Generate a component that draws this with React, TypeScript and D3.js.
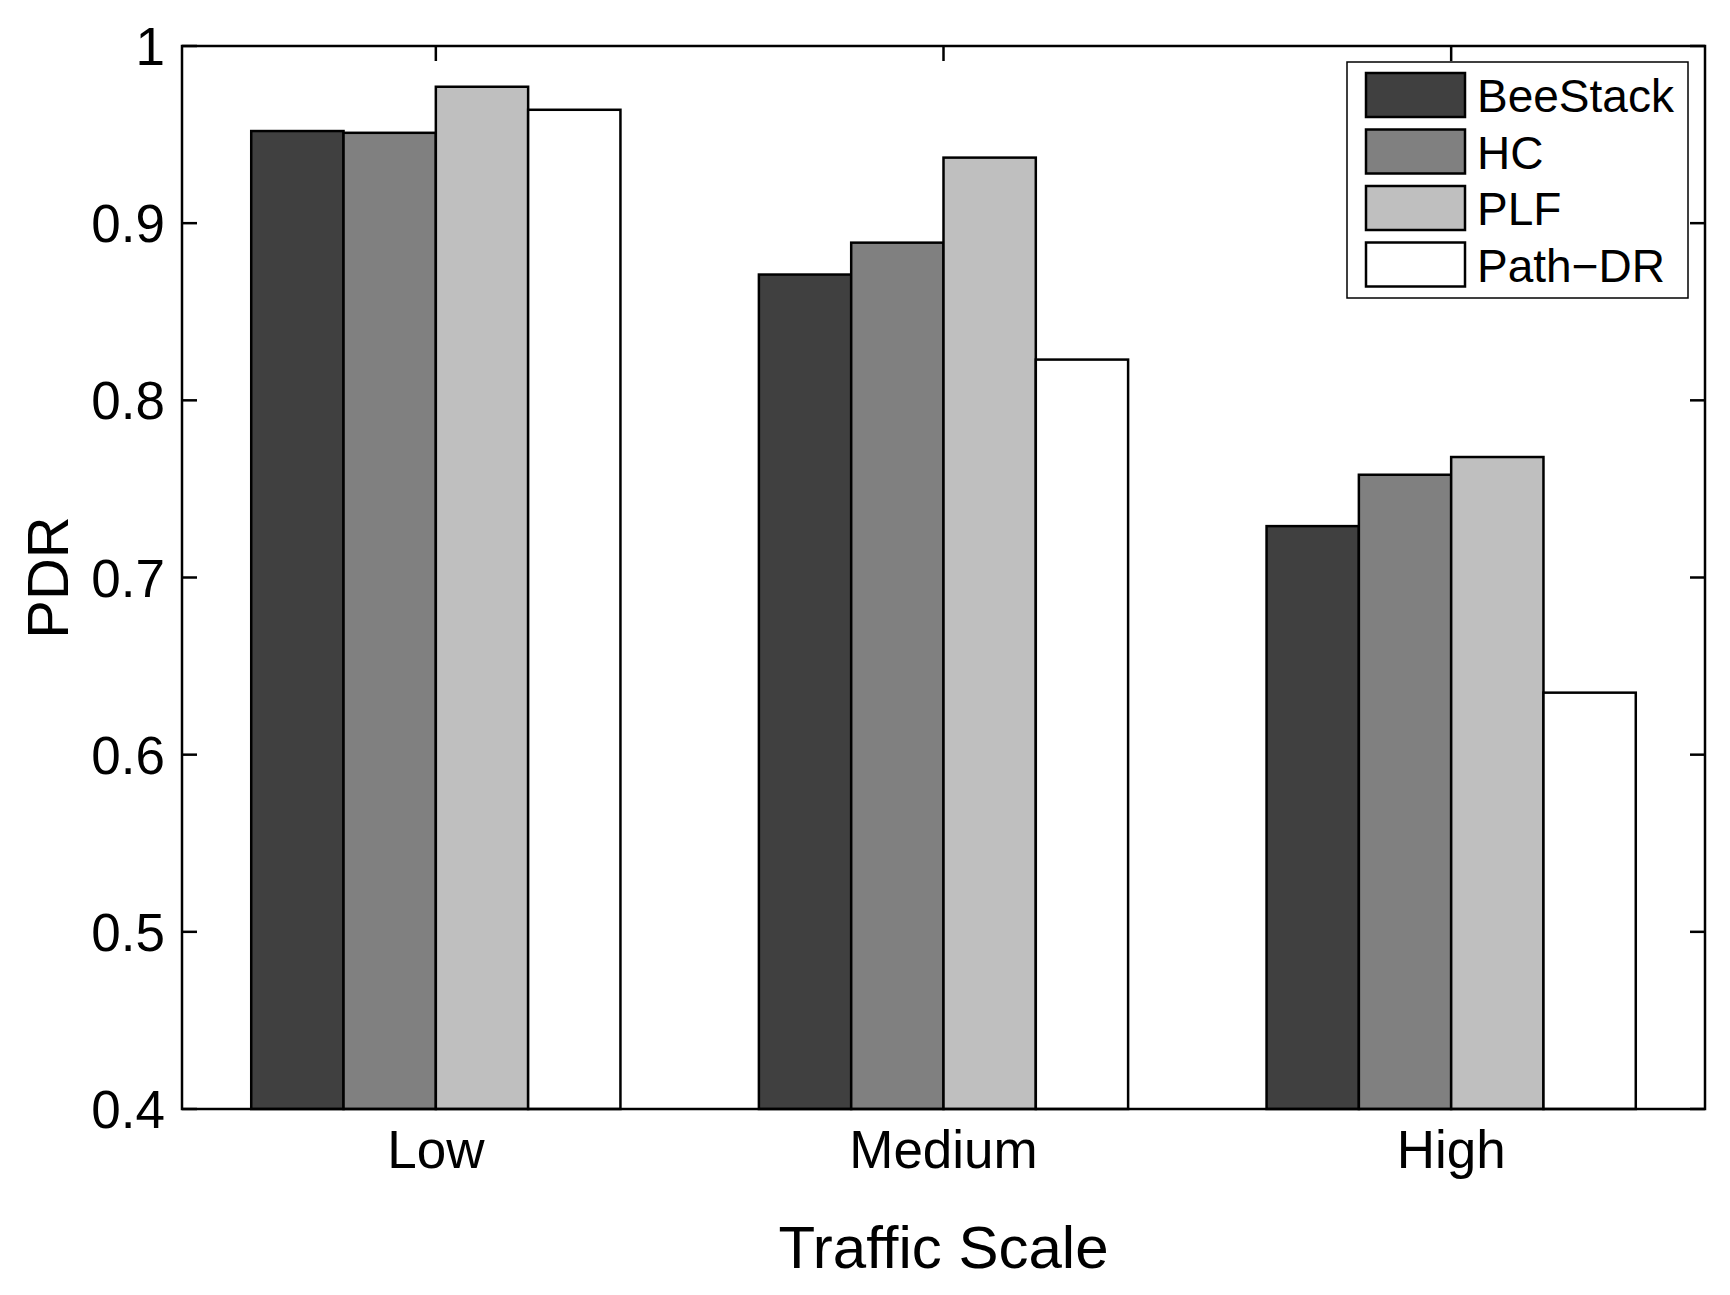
import { useEffect, useRef } from "react";
import * as d3 from "d3";

const categories = ["Low", "Medium", "High"];
const seriesNames = ["BeeStack", "HC", "PLF", "Path\u2212DR"];
const seriesColors = ["#404040", "#808080", "#bfbfbf", "#ffffff"];

// PDR per series, one value per traffic scale
const beeStack = [0.952, 0.871, 0.729];
const hc = [0.951, 0.889, 0.758];
const plf = [0.977, 0.937, 0.768];
const pathDr = [0.964, 0.823, 0.635];

const yTicks = [0.4, 0.5, 0.6, 0.7, 0.8, 0.9, 1];

export default function App() {
  const svgRef = useRef<SVGSVGElement>(null);
  const width = 1730;
  const height = 1295;

  useEffect(() => {
    if (!svgRef.current) return;
    d3.select(svgRef.current).selectAll("*").remove();

    const svg = d3.select(svgRef.current);
    const margin = { top: 46, right: 25, bottom: 186, left: 182 };
    const innerWidth = width - margin.left - margin.right;
    const innerHeight = height - margin.top - margin.bottom;
    const font = "'Liberation Sans', Arial, Helvetica, sans-serif";

    const g = svg.append("g")
      .attr("transform", `translate(${margin.left},${margin.top})`);

    const values = [beeStack, hc, plf, pathDr];

    // Scales
    const x0 = d3.scaleBand<string>()
      .domain(categories)
      .range([0, innerWidth])
      .padding(0);

    const x1 = d3.scaleBand<number>()
      .domain(d3.range(seriesNames.length))
      .range([0, x0.bandwidth()])
      .paddingInner(0)
      .paddingOuter(0.75);

    const yScale = d3.scaleLinear()
      .domain([0.4, 1])
      .range([innerHeight, 0]);

    const tickLen = 15;

    // Tick marks (under the bars, like MATLAB)
    const ticks = g.append("g").attr("stroke", "#000").attr("stroke-width", 2.5);
    yTicks.forEach(t => {
      ticks.append("line")
        .attr("x1", 0).attr("x2", tickLen)
        .attr("y1", yScale(t)).attr("y2", yScale(t));
      ticks.append("line")
        .attr("x1", innerWidth - tickLen).attr("x2", innerWidth)
        .attr("y1", yScale(t)).attr("y2", yScale(t));
    });
    categories.forEach(c => {
      const cx = (x0(c) as number) + x0.bandwidth() / 2;
      ticks.append("line")
        .attr("x1", cx).attr("x2", cx)
        .attr("y1", 0).attr("y2", tickLen);
      ticks.append("line")
        .attr("x1", cx).attr("x2", cx)
        .attr("y1", innerHeight).attr("y2", innerHeight - tickLen);
    });

    // Bars
    categories.forEach((c, ci) => {
      const group = g.append("g")
        .attr("transform", `translate(${x0(c)},0)`);
      values.forEach((vals, si) => {
        group.append("rect")
          .attr("x", x1(si) as number)
          .attr("y", yScale(vals[ci]))
          .attr("width", x1.bandwidth())
          .attr("height", innerHeight - yScale(vals[ci]))
          .attr("fill", seriesColors[si])
          .attr("stroke", "#000")
          .attr("stroke-width", 2.5);
      });
    });

    // Axes box
    g.append("rect")
      .attr("x", 0)
      .attr("y", 0)
      .attr("width", innerWidth)
      .attr("height", innerHeight)
      .attr("fill", "none")
      .attr("stroke", "#000")
      .attr("stroke-width", 2.5);

    // Y tick labels
    yTicks.forEach(t => {
      g.append("text")
        .attr("x", -17)
        .attr("y", yScale(t))
        .attr("dy", "0.36em")
        .attr("text-anchor", "end")
        .attr("font-family", font)
        .attr("font-size", "53px")
        .attr("fill", "#000")
        .text(d3.format("~g")(t));
    });

    // X tick labels
    categories.forEach(c => {
      g.append("text")
        .attr("x", (x0(c) as number) + x0.bandwidth() / 2)
        .attr("y", innerHeight + 59)
        .attr("text-anchor", "middle")
        .attr("font-family", font)
        .attr("font-size", "53px")
        .attr("fill", "#000")
        .text(c);
    });

    // Axis labels
    g.append("text")
      .attr("x", innerWidth / 2)
      .attr("y", innerHeight + 159)
      .attr("text-anchor", "middle")
      .attr("font-family", font)
      .attr("font-size", "60px")
      .attr("fill", "#000")
      .text("Traffic Scale");

    g.append("text")
      .attr("transform", "rotate(-90)")
      .attr("x", -(yScale(0.7)))
      .attr("y", -margin.left + 68)
      .attr("text-anchor", "middle")
      .attr("font-family", font)
      .attr("font-size", "58px")
      .attr("fill", "#000")
      .text("PDR");

    // Legend
    const legend = svg.append("g").attr("transform", "translate(1347,62)");
    legend.append("rect")
      .attr("width", 341)
      .attr("height", 236)
      .attr("fill", "#fff")
      .attr("stroke", "#000")
      .attr("stroke-width", 1.5);

    seriesNames.forEach((name, i) => {
      const row = legend.append("g")
        .attr("transform", `translate(0,${11 + i * 56.5})`);
      row.append("rect")
        .attr("x", 19)
        .attr("y", 0)
        .attr("width", 99)
        .attr("height", 44)
        .attr("fill", seriesColors[i])
        .attr("stroke", "#000")
        .attr("stroke-width", 2.5);
      row.append("text")
        .attr("x", 130)
        .attr("y", 39)
        .attr("font-family", font)
        .attr("font-size", "46px")
        .attr("fill", "#000")
        .text(name);
    });
  }, []);

  return (
    <svg
      ref={svgRef}
      width={width}
      height={height}
      viewBox={`0 0 ${width} ${height}`}
      style={{ position: "absolute", left: 0, top: 0, background: "#fff" }}
    />
  );
}
